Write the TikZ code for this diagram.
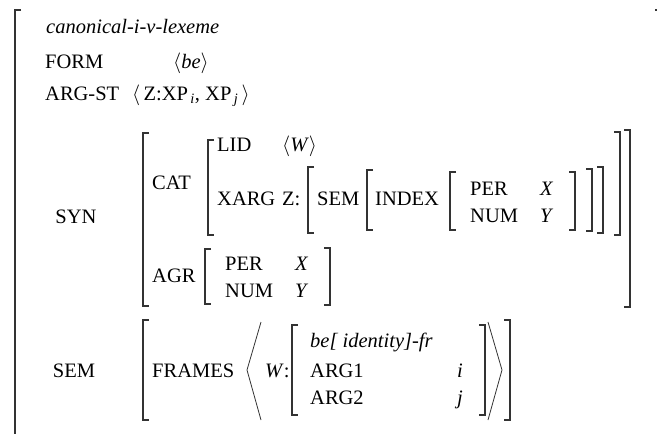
\documentclass[tikz,border=0pt]{standalone}
\usepackage{fontspec}
\setmainfont{Liberation Serif}
\tikzset{
  brk/.style={line width=1.1pt, black!80},
  lbl/.style={inner sep=0pt, anchor=base west},
  mid/.style={inner sep=0pt, anchor=base},
}
\begin{document}
\begin{tikzpicture}[x=1pt, y=-1pt, font=\fontsize{20.5}{24}\selectfont]
			% page
			\clip (0,0) rectangle (657,434);
			% outer matrix
			\draw[brk] (21,10) -- (15,10) -- (15,440);
			\draw[brk] (655,10) -- (661,10) -- (661,440);
			\node[lbl] (type) at (46,33) {\textit{canonical-i-v-lexeme}};
			\node[lbl] (form) at (45,68) {FORM};
			\node[lbl] (formval) at (173,68) {$\langle$\textit{be}$\rangle$};
			\node[lbl] (argst) at (45,100) {ARG-ST};
			\node[lbl] (argstval) at (132,100) {$\Big\langle$\,Z:XP\textsubscript{\,\textit{i}}, XP\textsubscript{\,\textit{j}}\,$\Big\rangle$};
			% SYN
			\node[mid] (syn) at (76,223) {SYN};
			\draw[brk] (149,133) -- (143,133) -- (143,306) -- (149,306);
			\draw[brk] (624,130) -- (630,130) -- (630,307) -- (624,307);
			% CAT
			\node[lbl] (cat) at (152,189) {CAT};
			\draw[brk] (214,140) -- (208,140) -- (208,235) -- (214,235);
			\draw[brk] (614,132) -- (620,132) -- (620,235) -- (614,235);
			\node[lbl] (lid) at (217,151) {LID};
			\node[lbl] (lidval) at (282,151) {$\langle$\textit{W}$\rangle$};
			\node[lbl] (xarg) at (217,205) {XARG};
			\node[lbl] (xargz) at (282,205) {Z:};
			% XARG value
			\draw[brk] (314,167) -- (308,167) -- (308,233) -- (314,233);
			\draw[brk] (597,167) -- (603,167) -- (603,233) -- (597,233);
			\node[lbl] (xsem) at (317,205) {SEM};
			\draw[brk] (373,170) -- (367,170) -- (367,230) -- (373,230);
			\draw[brk] (586,169) -- (592,169) -- (592,231) -- (586,231);
			\node[lbl] (index) at (375,205) {INDEX};
			\draw[brk] (456,172) -- (450,172) -- (450,230) -- (456,230);
			\draw[brk] (569,172) -- (575,172) -- (575,230) -- (569,230);
			\node[lbl] (iper) at (470,195) {PER};
			\node[lbl] (iperval) at (540,195) {\textit{X}};
			\node[lbl] (inum) at (470,222) {NUM};
			\node[lbl] (inumval) at (540,222) {\textit{Y}};
			% AGR
			\node[lbl] (agr) at (152,282) {AGR};
			\draw[brk] (211,249) -- (205,249) -- (205,304) -- (211,304);
			\draw[brk] (324,248) -- (330,248) -- (330,305) -- (324,305);
			\node[lbl] (aper) at (225,270) {PER};
			\node[lbl] (aperval) at (295,270) {\textit{X}};
			\node[lbl] (anum) at (225,297) {NUM};
			\node[lbl] (anumval) at (295,297) {\textit{Y}};
			% SEM
			\node[mid] (sem) at (74,377) {SEM};
			\draw[brk] (149,320) -- (143,320) -- (143,420) -- (149,420);
			\draw[brk] (504,320) -- (510,320) -- (510,420) -- (504,420);
			\node[lbl] (frames) at (152,377) {FRAMES};
			% list brackets
			\draw[black!80, line width=0.8pt] (261,322) -- (247,370) -- (261,420);
			\draw[black!80, line width=0.8pt] (488,322) -- (502,370) -- (488,420);
			\node[lbl] (frw) at (265,377) {\textit{W}:};
			\draw[brk] (298,325) -- (292,325) -- (292,415) -- (298,415);
			\draw[brk] (479,325) -- (485,325) -- (485,415) -- (479,415);
			\node[lbl] (frtype) at (310,347) {\textit{be[ identity]-fr}};
			\node[lbl] (arga) at (310,377) {ARG1};
			\node[lbl] (argaval) at (457,377) {\textit{i}};
			\node[lbl] (argb) at (310,404) {ARG2};
			\node[lbl] (argbval) at (457,404) {\textit{j}};
\end{tikzpicture}
\end{document}
